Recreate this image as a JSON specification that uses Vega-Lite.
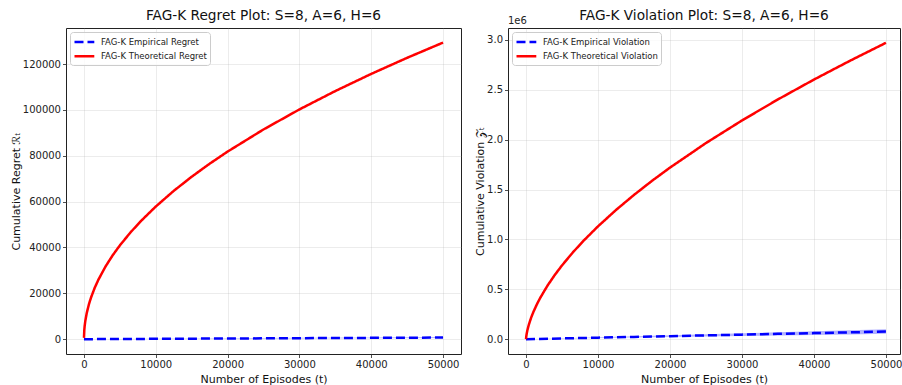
{
  "$schema": "https://vega.github.io/schema/vega-lite/v6.json",
  "padding": {"left": 9, "top": 8, "right": 0, "bottom": 0},
  "spacing": 12,
  "background": "white",
  "datasets": {
    "regret": [
      {"series": "FAG-K Empirical Regret", "t": 0, "v": 0},
      {"series": "FAG-K Empirical Regret", "t": 5000, "v": 80},
      {"series": "FAG-K Empirical Regret", "t": 10000, "v": 155},
      {"series": "FAG-K Empirical Regret", "t": 15000, "v": 230},
      {"series": "FAG-K Empirical Regret", "t": 20000, "v": 300},
      {"series": "FAG-K Empirical Regret", "t": 25000, "v": 370},
      {"series": "FAG-K Empirical Regret", "t": 30000, "v": 440},
      {"series": "FAG-K Empirical Regret", "t": 35000, "v": 510},
      {"series": "FAG-K Empirical Regret", "t": 40000, "v": 580},
      {"series": "FAG-K Empirical Regret", "t": 45000, "v": 650},
      {"series": "FAG-K Empirical Regret", "t": 50000, "v": 720},
      {"series": "FAG-K Theoretical Regret", "t": 1, "v": 579},
      {"series": "FAG-K Theoretical Regret", "t": 50, "v": 4092},
      {"series": "FAG-K Theoretical Regret", "t": 100, "v": 5787},
      {"series": "FAG-K Theoretical Regret", "t": 200, "v": 8184},
      {"series": "FAG-K Theoretical Regret", "t": 400, "v": 11574},
      {"series": "FAG-K Theoretical Regret", "t": 700, "v": 15311},
      {"series": "FAG-K Theoretical Regret", "t": 1000, "v": 18300},
      {"series": "FAG-K Theoretical Regret", "t": 1500, "v": 22413},
      {"series": "FAG-K Theoretical Regret", "t": 2000, "v": 25880},
      {"series": "FAG-K Theoretical Regret", "t": 3000, "v": 31697},
      {"series": "FAG-K Theoretical Regret", "t": 4000, "v": 36600},
      {"series": "FAG-K Theoretical Regret", "t": 5000, "v": 40920},
      {"series": "FAG-K Theoretical Regret", "t": 6500, "v": 46656},
      {"series": "FAG-K Theoretical Regret", "t": 8000, "v": 51761},
      {"series": "FAG-K Theoretical Regret", "t": 10000, "v": 57870},
      {"series": "FAG-K Theoretical Regret", "t": 12500, "v": 64700},
      {"series": "FAG-K Theoretical Regret", "t": 15000, "v": 70874},
      {"series": "FAG-K Theoretical Regret", "t": 17500, "v": 76556},
      {"series": "FAG-K Theoretical Regret", "t": 20000, "v": 81840},
      {"series": "FAG-K Theoretical Regret", "t": 25000, "v": 91500},
      {"series": "FAG-K Theoretical Regret", "t": 30000, "v": 100236},
      {"series": "FAG-K Theoretical Regret", "t": 35000, "v": 108264},
      {"series": "FAG-K Theoretical Regret", "t": 40000, "v": 115740},
      {"series": "FAG-K Theoretical Regret", "t": 45000, "v": 122760},
      {"series": "FAG-K Theoretical Regret", "t": 50000, "v": 129400}
    ],
    "regretBand": [
      {"t": 0, "lo": 0, "hi": 0},
      {"t": 10000, "lo": 100, "hi": 210},
      {"t": 20000, "lo": 200, "hi": 400},
      {"t": 30000, "lo": 300, "hi": 580},
      {"t": 40000, "lo": 400, "hi": 760},
      {"t": 50000, "lo": 500, "hi": 940}
    ],
    "violation": [
      {"series": "FAG-K Empirical Violation", "t": 0, "v": 0},
      {"series": "FAG-K Empirical Violation", "t": 5000, "v": 7600},
      {"series": "FAG-K Empirical Violation", "t": 10000, "v": 15200},
      {"series": "FAG-K Empirical Violation", "t": 15000, "v": 22800},
      {"series": "FAG-K Empirical Violation", "t": 20000, "v": 30400},
      {"series": "FAG-K Empirical Violation", "t": 25000, "v": 38000},
      {"series": "FAG-K Empirical Violation", "t": 30000, "v": 45600},
      {"series": "FAG-K Empirical Violation", "t": 35000, "v": 53200},
      {"series": "FAG-K Empirical Violation", "t": 40000, "v": 60800},
      {"series": "FAG-K Empirical Violation", "t": 45000, "v": 68400},
      {"series": "FAG-K Empirical Violation", "t": 50000, "v": 76000},
      {"series": "FAG-K Theoretical Violation", "t": 1, "v": 0},
      {"series": "FAG-K Theoretical Violation", "t": 50, "v": 33958},
      {"series": "FAG-K Theoretical Violation", "t": 100, "v": 56532},
      {"series": "FAG-K Theoretical Violation", "t": 200, "v": 91985},
      {"series": "FAG-K Theoretical Violation", "t": 400, "v": 147100},
      {"series": "FAG-K Theoretical Violation", "t": 700, "v": 212780},
      {"series": "FAG-K Theoretical Violation", "t": 1000, "v": 268170},
      {"series": "FAG-K Theoretical Violation", "t": 1500, "v": 347700},
      {"series": "FAG-K Theoretical Violation", "t": 2000, "v": 417290},
      {"series": "FAG-K Theoretical Violation", "t": 3000, "v": 538320},
      {"series": "FAG-K Theoretical Violation", "t": 4000, "v": 643930},
      {"series": "FAG-K Theoretical Violation", "t": 5000, "v": 739320},
      {"series": "FAG-K Theoretical Violation", "t": 6500, "v": 868980},
      {"series": "FAG-K Theoretical Violation", "t": 8000, "v": 986770},
      {"series": "FAG-K Theoretical Violation", "t": 10000, "v": 1130660},
      {"series": "FAG-K Theoretical Violation", "t": 12500, "v": 1294730},
      {"series": "FAG-K Theoretical Violation", "t": 15000, "v": 1445730},
      {"series": "FAG-K Theoretical Violation", "t": 17500, "v": 1586690},
      {"series": "FAG-K Theoretical Violation", "t": 20000, "v": 1719380},
      {"series": "FAG-K Theoretical Violation", "t": 25000, "v": 1965510},
      {"series": "FAG-K Theoretical Violation", "t": 30000, "v": 2192000},
      {"series": "FAG-K Theoretical Violation", "t": 35000, "v": 2402910},
      {"series": "FAG-K Theoretical Violation", "t": 40000, "v": 2601770},
      {"series": "FAG-K Theoretical Violation", "t": 45000, "v": 2790090},
      {"series": "FAG-K Theoretical Violation", "t": 50000, "v": 2970180}
    ],
    "violationBand": [
      {"t": 0, "lo": 0, "hi": 0},
      {"t": 5000, "lo": 5300, "hi": 9900},
      {"t": 10000, "lo": 10600, "hi": 19800},
      {"t": 15000, "lo": 16000, "hi": 29600},
      {"t": 20000, "lo": 21300, "hi": 39500},
      {"t": 25000, "lo": 26600, "hi": 49400},
      {"t": 30000, "lo": 31900, "hi": 59300},
      {"t": 35000, "lo": 37200, "hi": 69200},
      {"t": 40000, "lo": 42600, "hi": 79000},
      {"t": 45000, "lo": 47900, "hi": 88900},
      {"t": 50000, "lo": 53200, "hi": 98800}
    ],
    "label1e6": [{"txt": "1e6"}]
  },
  "hconcat": [
    {
      "title": {"text": "FAG-K Regret Plot: S=8, A=6, H=6"},
      "width": 395,
      "height": 326,
      "layer": [
        {
          "data": {"name": "regretBand"},
          "mark": {"type": "area", "color": "blue", "opacity": 0.3},
          "encoding": {
            "x": {"field": "t", "type": "quantitative", "scale": {"domain": [-2500, 52500], "nice": false, "zero": false}},
            "y": {"field": "lo", "type": "quantitative", "scale": {"domain": [-6465, 135765], "nice": false, "zero": false}},
            "y2": {"field": "hi"}
          }
        },
        {
          "data": {"name": "regret"},
          "mark": {"type": "line", "strokeWidth": 2.5},
          "encoding": {
            "x": {"field": "t", "type": "quantitative", "title": "Number of Episodes (t)",
                  "axis": {"values": [0, 10000, 20000, 30000, 40000, 50000], "format": "d"}},
            "y": {"field": "v", "type": "quantitative", "title": "Cumulative Regret ℛₜ",
                  "axis": {"values": [0, 20000, 40000, 60000, 80000, 100000, 120000], "format": "d"}},
            "color": {"field": "series", "type": "nominal",
                      "scale": {"domain": ["FAG-K Empirical Regret", "FAG-K Theoretical Regret"], "range": ["#0000ff", "#ff0000"]},
                      "legend": {"title": null}},
            "strokeDash": {"field": "series", "type": "nominal",
                      "scale": {"domain": ["FAG-K Empirical Regret", "FAG-K Theoretical Regret"], "range": [[9, 4], [1, 0]]},
                      "legend": {"title": null}}
          }
        }
      ]
    },
    {
      "title": {"text": "FAG-K Violation Plot: S=8, A=6, H=6", "offset": -7},
      "width": 392,
      "height": 326,
      "layer": [
        {
          "data": {"name": "violationBand"},
          "mark": {"type": "area", "color": "blue", "opacity": 0.3},
          "encoding": {
            "x": {"field": "t", "type": "quantitative", "scale": {"domain": [-2500, 51950], "nice": false, "zero": false}},
            "y": {"field": "lo", "type": "quantitative", "scale": {"domain": [-148500, 3118500], "nice": false, "zero": false}},
            "y2": {"field": "hi"}
          }
        },
        {
          "data": {"name": "violation"},
          "mark": {"type": "line", "strokeWidth": 2.5},
          "encoding": {
            "x": {"field": "t", "type": "quantitative", "title": "Number of Episodes (t)",
                  "axis": {"values": [0, 10000, 20000, 30000, 40000, 50000], "format": "d"}},
            "y": {"field": "v", "type": "quantitative", "title": "Cumulative Violation 𝒵ₜ",
                  "axis": {"values": [0, 500000, 1000000, 1500000, 2000000, 2500000, 3000000],
                           "labelExpr": "format(datum.value / 1000000, '.1f')"}},
            "color": {"field": "series", "type": "nominal",
                      "scale": {"domain": ["FAG-K Empirical Violation", "FAG-K Theoretical Violation"], "range": ["#0000ff", "#ff0000"]},
                      "legend": {"title": null}},
            "strokeDash": {"field": "series", "type": "nominal",
                      "scale": {"domain": ["FAG-K Empirical Violation", "FAG-K Theoretical Violation"], "range": [[9, 4], [1, 0]]},
                      "legend": {"title": null}}
          }
        },
        {
          "data": {"name": "label1e6"},
          "mark": {"type": "text", "align": "left", "baseline": "bottom", "dy": -2, "fontSize": 10, "color": "#222"},
          "encoding": {
            "x": {"datum": -2500},
            "y": {"datum": 3118500},
            "text": {"field": "txt"}
          }
        }
      ]
    }
  ],
  "resolve": {
    "scale": {"color": "independent", "strokeDash": "independent", "x": "independent", "y": "independent"},
    "legend": {"color": "independent", "strokeDash": "independent"}
  },
  "config": {
    "font": "DejaVu Sans",
    "view": {"stroke": "#222", "strokeWidth": 1},
    "axis": {
      "grid": true, "gridColor": "#b0b0b0", "gridOpacity": 0.3, "gridWidth": 0.8,
      "domain": false, "tickColor": "#222", "tickSize": 3.5, "tickWidth": 0.8,
      "labelFont": "DejaVu Sans", "labelFontSize": 10, "labelColor": "#222", "labelPadding": 2,
      "titleFont": "DejaVu Sans", "titleFontSize": 11, "titleFontWeight": "normal", "titleColor": "#111", "titlePadding": 1
    },
    "axisX": {"titlePadding": 4},
    "title": {"fontSize": 13.7, "fontWeight": "normal", "font": "DejaVu Sans", "offset": 5, "color": "#111"},
    "legend": {
      "orient": "top-left", "offset": 4, "padding": 3,
      "fillColor": "rgba(255,255,255,0.8)", "strokeColor": "#cccccc", "cornerRadius": 3,
      "symbolType": "M-1,0H2.6", "symbolSize": 121, "symbolStrokeWidth": 2.5,
      "labelFontSize": 8.5, "labelFont": "DejaVu Sans", "labelColor": "#222", "labelOffset": 14, "rowPadding": 2.3
    }
  }
}
